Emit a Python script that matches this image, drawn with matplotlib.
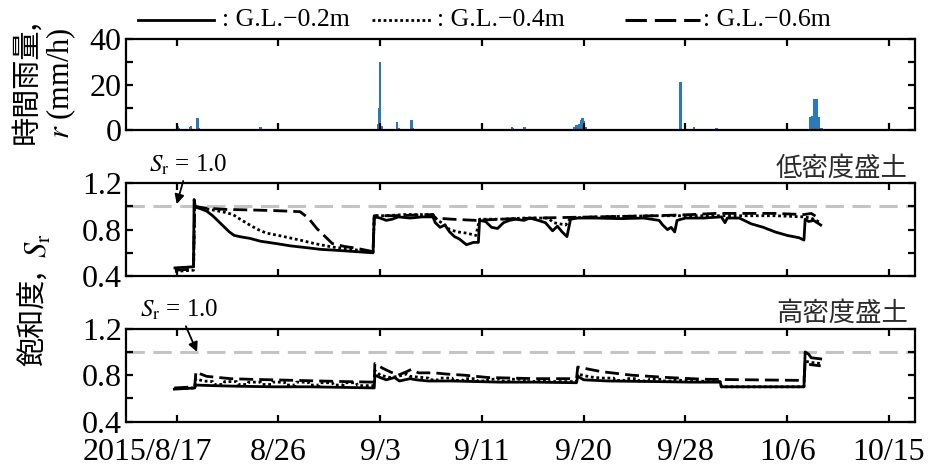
import matplotlib
matplotlib.use('Agg')
import matplotlib.pyplot as plt
from matplotlib.lines import Line2D
from matplotlib.transforms import ScaledTranslation

plt.rcParams['font.family'] = ['Liberation Serif', 'DejaVu Serif']
plt.rcParams['mathtext.fontset'] = 'stix'

# time axis: days counted from 2015/8/17 0:00
tick_days = [0, 8.5, 17, 25.5, 34, 42.5, 51, 59.5]
tick_labels = ['2015/8/17', '8/26', '9/3', '9/11', '9/20', '9/28', '10/6', '10/15']

# hourly rainfall (mm/h)
rain_day = [0.05, 0.15, 1.1, 1.2, 1.75, 1.85, 2.3, 2.7, 3.2, 4.0, 5.9, 6.3, 7.0, 7.15,
            16.8, 16.9, 17.0, 17.1, 18.4, 18.55, 19.0, 19.6, 19.7, 20.4, 20.6, 25.2, 25.9,
            28.0, 28.1, 29.05, 29.15, 31.1, 32.2, 32.6, 33.2, 33.4, 33.6, 33.75, 33.9, 34.0,
            34.2, 34.4, 42.1, 43.2, 44.2, 45.1, 45.3, 45.6, 46.7,
            52.9, 53.1, 53.25, 53.45, 53.65, 53.85]
rain_mm = [2.0, 1.0, 1.5, 2.0, 5.6, 1.0, 0.5, 0.5, 0.5, 0.5, 0.5, 0.5, 1.5, 0.8,
           3.0, 10.0, 30.0, 2.0, 3.6, 1.0, 0.8, 4.6, 1.0, 0.5, 0.5, 0.5, 0.8,
           1.4, 1.0, 1.5, 0.8, 0.5, 0.5, 0.5, 1.5, 2.5, 3.0, 4.5, 5.6, 4.0,
           1.5, 0.5, 21.2, 1.5, 0.7, 1.0, 0.8, 0.5, 0.3,
           6.0, 6.5, 14.0, 14.0, 6.0, 1.0]

# low density embankment, degree of saturation
low02_day = [-0.15, 1.4, 1.45, 1.55, 1.7, 2.0, 2.5, 3.0, 3.5, 3.9, 4.4, 4.8, 5.5, 6.1, 7.0,
             8.3, 9.5, 10.8, 12.0, 13.6, 15.0, 16.4, 16.5, 17.0, 17.5, 18.0, 18.5, 19.5,
             20.5, 21.4, 21.6, 22.0, 22.4, 22.8, 23.2, 23.6, 24.2, 24.8, 25.2, 25.3, 25.8,
             26.3, 26.8, 27.3, 27.8, 28.3, 29.0, 29.5, 30.2, 30.8, 31.4, 31.8, 32.2, 32.6,
             32.9, 33.5, 35.0, 37.0, 39.0, 40.3, 40.6, 41.0, 41.3, 41.6, 41.8, 42.5, 44.0,
             45.5, 45.8, 46.0, 47.0, 48.0, 49.0, 50.0, 51.0, 52.0, 52.4, 52.5, 52.8, 53.2, 53.8]
low02_sr = [0.47, 0.48, 1.06, 1.0, 0.99, 0.98, 0.96, 0.92, 0.87, 0.83, 0.78, 0.75, 0.735, 0.725, 0.70,
            0.68, 0.66, 0.645, 0.63, 0.62, 0.61, 0.60, 0.91, 0.90, 0.88, 0.89, 0.91, 0.90,
            0.91, 0.91, 0.86, 0.82, 0.84, 0.78, 0.74, 0.72, 0.67, 0.69, 0.69, 0.88, 0.87,
            0.82, 0.81, 0.86, 0.88, 0.89, 0.88, 0.90, 0.88, 0.86, 0.79, 0.83, 0.78, 0.74,
            0.89, 0.90, 0.90, 0.895, 0.90, 0.88, 0.84, 0.80, 0.82, 0.78, 0.88, 0.90, 0.90,
            0.91, 0.86, 0.90, 0.90, 0.85, 0.82, 0.78, 0.75, 0.73, 0.71, 0.89, 0.87, 0.88, 0.84]

low04_day = [-0.15, 1.4, 1.5, 2.0, 3.0, 4.0, 4.7, 5.3, 6.1, 6.8, 7.5, 8.5, 10.3, 11.5, 13.0,
             14.5, 16.4, 16.5, 17.5, 19.0, 21.4, 21.8, 22.3, 22.8, 23.5, 24.2, 25.0, 25.3,
             27.0, 29.0, 31.0, 31.5, 32.5, 32.9, 35.0, 40.0, 45.0, 50.0, 52.4, 53.0, 53.8]
low04_sr = [0.44, 0.45, 1.0, 0.985, 0.97, 0.95, 0.93, 0.89, 0.84, 0.80, 0.77, 0.75, 0.71, 0.68, 0.65,
            0.63, 0.61, 0.92, 0.92, 0.93, 0.93, 0.88, 0.85, 0.80, 0.78, 0.77, 0.75, 0.89,
            0.89, 0.90, 0.90, 0.86, 0.84, 0.90, 0.91, 0.92, 0.92, 0.92, 0.91, 0.90, 0.86]

low06_day = [-0.15, 1.4, 1.5, 2.5, 4.0, 6.0, 8.0, 10.3, 11.0, 11.7, 12.4, 13.0, 14.0, 15.0,
             16.4, 16.5, 18.0, 21.4, 21.6, 23.0, 25.0, 27.0, 30.0, 35.0, 40.0, 43.0, 45.0,
             50.0, 52.4, 53.0, 53.8]
low06_sr = [0.45, 0.46, 1.0, 0.985, 0.975, 0.97, 0.965, 0.955, 0.90, 0.81, 0.74, 0.68, 0.655, 0.64,
            0.61, 0.92, 0.92, 0.93, 0.90, 0.89, 0.88, 0.89, 0.90, 0.91, 0.92, 0.93, 0.94,
            0.94, 0.93, 0.94, 0.89]

# high density embankment, degree of saturation
high02_day = [-0.2, 1.5, 1.6, 3.0, 5.0, 8.0, 11.0, 14.0, 16.5, 16.55, 17.0, 17.5, 18.2, 18.6,
              19.5, 20.0, 21.0, 23.0, 25.0, 27.0, 30.0, 33.4, 33.5, 34.0, 36.0, 40.0, 43.0,
              45.4, 45.5, 48.0, 52.4, 52.5, 52.8, 53.0, 53.8]
high02_sr = [0.68, 0.69, 0.715, 0.71, 0.705, 0.70, 0.70, 0.695, 0.69, 0.80, 0.78, 0.76, 0.78, 0.75,
             0.77, 0.76, 0.75, 0.75, 0.745, 0.74, 0.74, 0.735, 0.79, 0.76, 0.75, 0.745, 0.74,
             0.74, 0.70, 0.70, 0.70, 1.00, 0.98, 0.95, 0.94]

high04_day = [-0.2, 1.5, 1.6, 2.2, 3.0, 3.1, 3.9, 4.0, 5.0, 5.1, 5.9, 6.0, 7.0, 7.1, 7.9, 8.0,
              9.0, 9.1, 9.9, 10.0, 11.0, 11.1, 11.9, 12.0, 13.0, 13.1, 13.9, 14.0, 15.0, 15.1,
              16.5, 16.55, 17.0, 17.8, 18.5, 19.2, 19.5, 20.5, 21.0, 21.1, 21.9, 22.0, 23.0,
              23.1, 23.9, 24.0, 25.0, 25.1, 25.9, 26.0, 27.0, 27.1, 27.9, 28.0, 29.0, 29.1,
              29.9, 30.0, 31.0, 31.1, 33.4, 33.5, 34.5, 35.5, 36.5, 36.6, 37.4, 37.5, 38.5,
              38.6, 39.4, 39.5, 40.5, 40.6, 41.4, 41.5, 43.0, 45.4, 45.5, 48.0, 52.4, 52.5,
              53.0, 53.8]
high04_sr = [0.685, 0.69, 0.77, 0.75, 0.745, 0.72, 0.72, 0.745, 0.745, 0.72, 0.72, 0.74, 0.74, 0.72, 0.72, 0.74,
             0.74, 0.715, 0.715, 0.74, 0.74, 0.715, 0.715, 0.735, 0.735, 0.715, 0.715, 0.735, 0.735, 0.71,
             0.71, 0.84, 0.80, 0.78, 0.79, 0.81, 0.79, 0.78, 0.775, 0.76, 0.76, 0.775, 0.775,
             0.755, 0.755, 0.77, 0.77, 0.75, 0.75, 0.765, 0.765, 0.75, 0.75, 0.765, 0.765, 0.745,
             0.745, 0.76, 0.76, 0.745, 0.745, 0.81, 0.785, 0.775, 0.775, 0.755, 0.755, 0.77, 0.77,
             0.75, 0.75, 0.765, 0.765, 0.75, 0.75, 0.76, 0.75, 0.745, 0.70, 0.70, 0.70, 0.92,
             0.91, 0.90]

high06_day = [-0.2, 1.5, 1.6, 2.0, 2.5, 3.5, 4.5, 6.0, 8.0, 10.0, 12.0, 14.0, 16.5, 16.55, 17.2,
              17.8, 18.5, 19.2, 19.6, 20.2, 21.5, 22.5, 24.0, 26.0, 28.0, 30.0, 33.4, 33.5,
              34.5, 35.5, 38.0, 41.0, 44.0, 48.0, 52.4, 52.5, 53.0, 53.8]
high06_sr = [0.69, 0.70, 0.83, 0.81, 0.79, 0.78, 0.77, 0.765, 0.76, 0.755, 0.75, 0.745, 0.74, 0.90, 0.86,
             0.83, 0.80, 0.83, 0.85, 0.82, 0.82, 0.81, 0.80, 0.78, 0.775, 0.77, 0.77, 0.87,
             0.85, 0.83, 0.80, 0.78, 0.765, 0.76, 0.755, 0.90, 0.89, 0.88]

# line styles for the three depths
solid = dict(color='k', lw=2.0, ls='-')
dotted = dict(color='k', lw=2.0, ls=(0, (1.0, 1.0)))
dashed = dict(color='k', lw=2.0, ls=(0, (5.0, 2.2)))

cjk = ['Noto Sans CJK JP', 'DejaVu Sans']

fig = plt.figure(figsize=(9.34, 4.66), dpi=100)
ax1 = fig.add_axes([0.1349, 0.720, 0.8448, 0.1953])
ax2 = fig.add_axes([0.1349, 0.4077, 0.8448, 0.199])
ax3 = fig.add_axes([0.1349, 0.0951, 0.8448, 0.1996])

for ax in (ax1, ax2, ax3):
    for s in ax.spines.values():
        s.set_linewidth(1.6)
    ax.tick_params(direction='in', length=5, width=1.6, top=True, right=True,
                   labelsize=23, pad=3)
    ax.tick_params(axis='x', pad=12)
    ax.set_xlim(-4.24, 61.68)
    ax.set_xticks(tick_days)
    if ax is ax3:
        ax.set_xticklabels(tick_labels)
    else:
        ax.set_xticklabels([])

# the long first date label sits left of its tick
first = ax3.get_xticklabels()[0]
first.set_transform(first.get_transform() + ScaledTranslation(-0.29, 0, fig.dpi_scale_trans))

# rainfall
ax1.bar(rain_day, rain_mm, width=0.2, color='#2a7ab8', linewidth=0)
ax1.set_ylim(0, 40)
ax1.set_yticks([0, 10, 20, 30, 40])
ax1.set_yticklabels(['0', '', '20', '', '40'])

# saturation panels
for ax, (d2, s2), (d4, s4), (d6, s6) in [
        (ax2, (low02_day, low02_sr), (low04_day, low04_sr), (low06_day, low06_sr)),
        (ax3, (high02_day, high02_sr), (high04_day, high04_sr), (high06_day, high06_sr))]:
    ax.axhline(1.0, color='#c4c4c4', lw=2.2, ls=(0, (6.0, 2.8)), zorder=1)
    ax.plot(d6, s6, **dashed)
    ax.plot(d4, s4, **dotted)
    ax.plot(d2, s2, **solid)
    ax.set_ylim(0.4, 1.2)
    ax.set_yticks([0.4, 0.6, 0.8, 1.0, 1.2])
    ax.set_yticklabels(['0.4', '', '0.8', '', '1.2'])

ax2.text(0.991, 1.02, '低密度盛土', transform=ax2.transAxes, ha='right', va='bottom',
         family=cjk, fontsize=19, color='#2b2b2b')
ax3.text(0.991, 1.02, '高密度盛土', transform=ax3.transAxes, ha='right', va='bottom',
         family=cjk, fontsize=19, color='#2b2b2b')

arrow = dict(arrowstyle='-|>', color='k', lw=1.3, mutation_scale=14, shrinkA=1, shrinkB=0)
ax2.annotate(r'$S_\mathrm{r}$ = 1.0', xy=(0.0, 1.02), xytext=(0.92, 1.36),
             ha='center', va='center', fontsize=18, arrowprops=arrow, annotation_clip=False)
ax3.annotate(r'$S_\mathrm{r}$ = 1.0', xy=(1.7, 1.0), xytext=(0.17, 1.36),
             ha='center', va='center', fontsize=18, arrowprops=arrow, annotation_clip=False)

# axis titles
fig.text(26 / 934, 1 - 82 / 466, '時間雨量,', rotation=90, ha='center', va='center',
         family=cjk, fontsize=21)
fig.text(61 / 934, 1 - 83 / 466, r'$r$ (mm/h)', rotation=90, ha='center', va='center',
         fontsize=22)
fig.text(34 / 934, 1 - 318 / 466, '飽和度,', rotation=90, ha='center', va='center',
         family=cjk, fontsize=21)
fig.text(39 / 934, 1 - 246 / 466, r'$S_\mathrm{r}$', rotation=90, ha='center', va='center',
         fontsize=22)

# legend row above the panels
legend_items = [(solid, 138, 214, 222, ': G.L.\u22120.2m'),
                (dotted, 372, 432, 437, ': G.L.\u22120.4m'),
                (dict(color='k', lw=2.2, ls=(0, (7.0, 2.6))), 625, 700, 703, ': G.L.\u22120.6m')]
ly = 1 - 20 / 466
for style, x0, x1, xt, label in legend_items:
    fig.add_artist(Line2D([x0 / 934, x1 / 934], [ly, ly], transform=fig.transFigure, **style))
    fig.text(xt / 934, ly, label, ha='left', va='center', fontsize=18.5)

fig.savefig('out.png', dpi=100)
